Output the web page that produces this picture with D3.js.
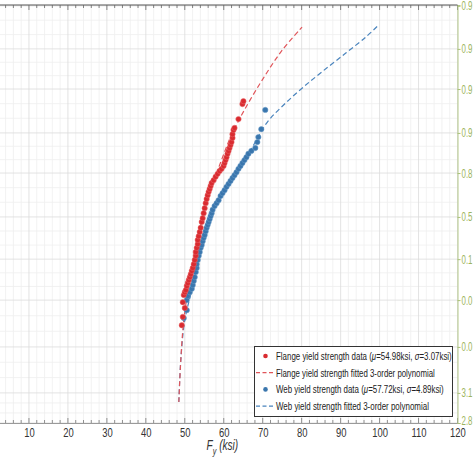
<!DOCTYPE html>
<html><head><meta charset="utf-8">
<script src="https://cdn.jsdelivr.net/npm/d3@7"></script>
<style>body{margin:0;background:#fff}svg{display:block}</style>
</head><body>
<svg id="c" width="474" height="474"></svg>
<script>
// ---- data (F_y in ksi, y = probability-paper score) ----
const xTicks = [10,20,30,40,50,60,70,80,90,100,110,120];
const probTickScores = [9.98, 8.95, 7.99, 6.94, 5.98, 4.93, 3.92, 2.94, 1.82, 0.72, 0];
const probTickLabels = ["0.9","0.9","0.9","0.9","0.8","0.5","0.1","0.0","0.0","3.1","2.8"];

const flangeData = [[49.23,2.34],[49.49,2.54],[50.0,2.75],[49.49,2.89],[49.74,3.06],[50.0,3.13],[50.26,3.18],[50.51,3.28],[50.77,3.35],[51.02,3.42],[51.28,3.49],[51.53,3.56],[51.79,3.64],[52.04,3.71],[52.30,3.80],[52.55,3.90],[52.81,4.00],[52.81,4.09],[53.06,4.19],[53.32,4.28],[53.32,4.38],[53.57,4.47],[53.83,4.57],[54.08,4.67],[54.34,4.81],[54.59,4.90],[54.85,5.02],[55.10,5.14],[55.36,5.26],[55.61,5.36],[55.87,5.45],[56.12,5.53],[56.38,5.60],[56.63,5.67],[56.89,5.74],[57.40,5.81],[57.91,5.89],[58.42,5.96],[58.93,6.03],[59.44,6.08],[59.95,6.15],[60.20,6.22],[60.46,6.29],[60.71,6.36],[60.97,6.44],[61.22,6.51],[61.48,6.58],[61.73,6.65],[61.99,6.72],[62.24,6.82],[62.24,6.91],[62.50,7.01],[62.76,7.06],[63.78,7.27],[64.80,7.63],[65.05,7.70]];
const flangeFit = [[48.47,0.50],[48.98,1.51],[49.74,2.46],[51.28,3.42],[53.32,4.38],[55.61,5.33],[58.93,6.17],[61.99,6.89],[65.31,7.49],[69.90,8.21],[75.0,8.92],[80.1,9.47]];

const webData = [[49.74,2.51],[50.51,2.70],[50.51,2.94],[50.77,3.04],[51.28,3.13],[51.79,3.21],[52.04,3.30],[52.30,3.40],[52.55,3.49],[52.81,3.61],[53.06,3.71],[53.06,3.80],[53.32,3.90],[53.57,4.00],[53.83,4.09],[54.08,4.19],[54.34,4.26],[54.59,4.35],[54.85,4.43],[55.10,4.50],[55.36,4.59],[55.61,4.67],[55.87,4.74],[56.12,4.81],[56.38,4.88],[56.63,4.95],[56.89,5.02],[57.14,5.10],[57.65,5.19],[58.16,5.26],[58.67,5.33],[59.18,5.43],[59.69,5.50],[60.20,5.57],[60.71,5.65],[61.22,5.72],[61.73,5.79],[62.24,5.86],[62.76,5.93],[63.27,6.00],[63.78,6.08],[64.29,6.15],[64.80,6.22],[65.31,6.29],[65.82,6.36],[66.33,6.44],[67.09,6.51],[68.11,6.58],[68.62,6.72],[68.88,6.84],[69.64,7.03],[70.66,7.49]];
const webFit = [[48.47,0.50],[48.98,1.51],[50.0,2.46],[51.79,3.18],[53.83,4.02],[56.89,4.98],[60.97,5.69],[66.58,6.48],[71.2,7.2],[75.5,7.62],[80.10,8.01],[85.20,8.40],[91.33,8.85],[96.43,9.23],[99.74,9.52]];

const legendItems = [
  {type:"dot", color:"#d92b30", pre:"Flange yield strength data (", mu:"54.98", sig:"3.07", w:176},
  {type:"dash", color:"#e0555a", text:"Flange yield strength fitted 3-order polynomial", w:159},
  {type:"dot", color:"#3a76ad", pre:"Web yield strength data (", mu:"57.72", sig:"4.89", w:168},
  {type:"dash", color:"#4a84bd", text:"Web yield strength fitted 3-order polynomial", w:153}
];

// ---- drawing ----
const svg = d3.select("#c");
const x = d3.scaleLinear().domain([0,120]).range([-10, 457.5]);
const y = d3.scaleLinear().domain([0,10]).range([423, 5]);
const font = "'Liberation Sans','Arial',sans-serif";

const grid = svg.append("g");
d3.range(2,121,2).filter(v=>v%10!==0).forEach(v=>{
  grid.append("line").attr("x1",x(v)).attr("x2",x(v)).attr("y1",y(10)).attr("y2",y(0))
    .attr("stroke","#efefef").attr("stroke-width",0.8);
});
for(let i=0;i<probTickScores.length-1;i++){
  const a=probTickScores[i], b=probTickScores[i+1];
  [1/3,2/3].forEach(f=>{
    const s=a+(b-a)*f;
    grid.append("line").attr("x1",0).attr("x2",x(120)).attr("y1",y(s)).attr("y2",y(s))
      .attr("stroke","#efefef").attr("stroke-width",0.8);
  });
}
xTicks.forEach(v=>{
  grid.append("line").attr("x1",x(v)).attr("x2",x(v)).attr("y1",y(10)).attr("y2",y(0))
    .attr("stroke","#dcdcdc").attr("stroke-width",0.8);
});
probTickScores.forEach(s=>{
  grid.append("line").attr("x1",0).attr("x2",x(120)).attr("y1",y(s)).attr("y2",y(s))
    .attr("stroke","#dcdcdc").attr("stroke-width",0.8);
});

// top border
svg.append("line").attr("x1",0).attr("x2",x(120)).attr("y1",y(10)).attr("y2",y(10))
  .attr("stroke","#555").attr("stroke-width",1.2);
// bottom axis
const xAxis = d3.axisBottom(x).tickValues(xTicks).tickSize(0).tickPadding(4);
const gx = svg.append("g").attr("transform",`translate(0,${y(0)})`).call(xAxis);
gx.select(".domain").attr("stroke","#9a9a9a");
gx.selectAll("text").attr("font-family",font).attr("font-size",13.5).attr("fill","#333")
  .attr("transform","scale(0.7,1)");
d3.range(0,121,2).forEach(v=>{
  const len = v%10===0 ? 5 : 3;
  svg.append("line").attr("x1",x(v)).attr("x2",x(v)).attr("y1",y(0)).attr("y2",y(0)-len).attr("stroke","#777").attr("stroke-width",0.8);
  svg.append("line").attr("x1",x(v)).attr("x2",x(v)).attr("y1",y(10)).attr("y2",y(10)+len).attr("stroke","#666").attr("stroke-width",0.8);
});

// right probability axis
const yAxis = d3.axisRight(y).tickValues(probTickScores).tickFormat((d,i)=>probTickLabels[i]).tickSize(3).tickPadding(3);
const gy = svg.append("g").attr("transform",`translate(${x(120)},0)`).call(yAxis);
gy.select(".domain").attr("stroke","#b5c98a");
gy.selectAll(".tick line").attr("stroke","#a9c078");
gy.selectAll("text").attr("font-family",font).attr("font-size",12.5).attr("fill","#9db55e")
  .attr("x",4).attr("textLength",11).attr("lengthAdjust","spacingAndGlyphs");
gy.selectAll("text").filter((d,i)=>i===probTickScores.length-1).attr("dy","0.1em");

// axis title
const t = svg.append("text").attr("transform",`translate(${x(55.6)},450) scale(0.72,1)`)
  .attr("font-family",font).attr("font-size",14).attr("fill","#333").attr("font-style","italic");
t.append("tspan").text("F");
t.append("tspan").attr("font-size",10).attr("dy",5).text("y");
t.append("tspan").attr("dy",-5).text(" (ksi)");

// fitted lines
const line = d3.line().x(d=>x(d[0])).y(d=>y(d[1])).curve(d3.curveCatmullRom);
svg.append("path").datum(webFit).attr("d",line).attr("fill","none").attr("stroke","#4a84bd").attr("stroke-width",1.2).attr("stroke-dasharray","5,3");
svg.append("path").datum(flangeFit).attr("d",line).attr("fill","none").attr("stroke","#e0555a").attr("stroke-width",1.2).attr("stroke-dasharray","5,3");

// data points
svg.append("g").selectAll("circle").data(webData).join("circle")
  .attr("cx",d=>x(d[0])).attr("cy",d=>y(d[1])).attr("r",2.7)
  .attr("fill","#3a76ad").attr("stroke","#6a9cc9").attr("stroke-width",0.5);
svg.append("g").selectAll("circle").data(flangeData).join("circle")
  .attr("cx",d=>x(d[0])).attr("cy",d=>y(d[1])).attr("r",2.7)
  .attr("fill","#d92b30").attr("stroke","#e86a6d").attr("stroke-width",0.5);

// legend
const lg = svg.append("g");
lg.append("rect").attr("x",254.5).attr("y",346.5).attr("width",198).attr("height",70)
  .attr("fill","#fff").attr("stroke","#333").attr("stroke-width",1);
legendItems.forEach((it,i)=>{
  const cy = 356 + i*16.7;
  if(it.type==="dot"){
    lg.append("circle").attr("cx",265.5).attr("cy",cy).attr("r",2.3).attr("fill",it.color);
  } else {
    lg.append("line").attr("x1",256).attr("x2",275).attr("y1",cy).attr("y2",cy)
      .attr("stroke",it.color).attr("stroke-width",1.2).attr("stroke-dasharray","4,2.5");
  }
  const tx = lg.append("text").attr("font-family",font).attr("font-size",11.5).attr("fill","#222");
  if(it.type==="dot"){
    tx.append("tspan").text(it.pre);
    tx.append("tspan").attr("font-style","italic").text("μ");
    tx.append("tspan").text("="+it.mu+"ksi, ");
    tx.append("tspan").attr("font-style","italic").text("σ");
    tx.append("tspan").text("="+it.sig+"ksi)");
  } else {
    tx.text(it.text);
  }
  const w = tx.node().getComputedTextLength();
  tx.attr("transform",`translate(276,${cy+4}) scale(${it.w/w},1)`);
});
</script>
</body></html>
